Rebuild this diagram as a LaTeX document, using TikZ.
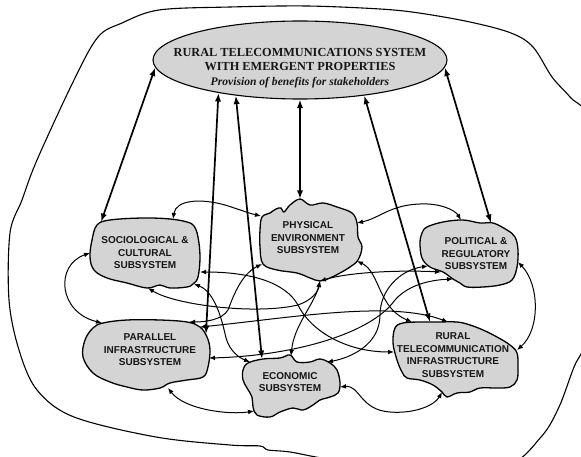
\documentclass[tikz,border=0pt]{standalone}
\usepackage{fontspec}
\setmainfont{Liberation Serif}
\setsansfont{Liberation Sans}
\usetikzlibrary{arrows.meta,shapes.geometric}

\definecolor{blobfill}{HTML}{D4D4D4}
\definecolor{inkdark}{HTML}{161616}

\begin{document}
\begin{tikzpicture}[x=1pt,y=-1pt,
  rim/.style={line width=1.1pt, black},
  blob/.style={draw=black, line width=1.3pt, fill=blobfill},
  sublabel/.style={font=\sffamily\bfseries\fontsize{10}{12.5}\selectfont,
    align=center, text=inkdark, inner sep=0pt},
  link/.style={line width=1pt,
    {Latex[length=6pt,width=4.8pt]}-{Latex[length=6pt,width=4.8pt]}},
  bond/.style={line width=1.7pt,
    {Latex[length=8.5pt,width=6.2pt]}-{Latex[length=8.5pt,width=6.2pt]}}]

\useasboundingbox (0,0) rectangle (581,457);

% environment boundary
\begin{scope}
  \clip (0,0) rectangle (581,457);
  \draw[rim] plot[smooth cycle, tension=0.55] coordinates {
    (98,37) (122,23) (159,10) (230,7) (307,6) (380,9) (419,13) (470,22)
    (511,33) (533,47) (552,77) (570,97) (592,125) (600,230) (590,330)
    (574,367) (559,407) (541,437) (505,466) (420,468) (335,460) (290,452)
    (268,450) (260,446) (230,445) (156,437) (74,417) (37,390) (19,350)
    (9,300) (10,233) (22,200) (37,160) (74,80)};
\end{scope}

% whole system
\node[ellipse, draw=black, line width=1.1pt, fill=blobfill,
      minimum width=294pt, minimum height=78pt, inner sep=0pt] (sys) at (300,60) {};
\node[align=center, text=inkdark, inner sep=0pt,
      font=\bfseries\fontsize{12.3}{14.5}\selectfont] (systext) at (300,68)
  {RURAL TELECOMMUNICATIONS SYSTEM\\WITH EMERGENT PROPERTIES\\
   {\itshape\fontsize{11.6}{14.5}\selectfont Provision of benefits for stakeholders}};

% subsystem outlines
\draw[blob] plot[smooth cycle, tension=0.6] coordinates {
  (97,225) (110,220) (143,218) (170,219) (187,222) (194,226) (198,237)
  (200,257) (198,277) (193,284) (187,287) (170,288) (160,285) (147,288)
  (127,283) (107,278) (94,270) (90,257) (92,240)};
\draw[blob] plot[smooth cycle, tension=0.6] coordinates {
  (300,199) (310,205) (323,203) (337,207) (352,213) (357,223) (358,237)
  (362,247) (358,260) (350,267) (340,273) (330,278) (320,281) (310,278)
  (297,273) (277,270) (263,264) (260,247) (260,230) (262,217) (270,213)
  (276,209) (281,208) (284,212) (290,205)};
\draw[blob] plot[smooth cycle, tension=0.6] coordinates {
  (427,227) (443,222) (463,220) (480,223) (493,223) (507,230) (515,237)
  (518,250) (517,267) (512,280) (500,285) (483,287) (467,287) (460,283)
  (453,279) (443,272) (430,267) (422,258) (420,243) (422,233)};
\draw[blob] plot[smooth cycle, tension=0.6] coordinates {
  (103,323) (127,320) (160,320) (187,322) (200,327) (207,337) (210,350)
  (208,367) (203,377) (187,380) (170,383) (160,388) (143,390) (127,387)
  (110,382) (93,373) (83,357) (85,340) (93,328)};
\draw[blob] plot[smooth cycle, tension=0.6] coordinates {
  (248,363) (263,359) (280,358) (290,355) (297,362) (310,362) (320,359)
  (330,363) (337,370) (340,383) (338,393) (330,397) (320,400) (313,405)
  (303,410) (293,408) (280,412) (270,417) (257,415) (253,407) (252,397)
  (247,388) (243,380) (243,370)};
\draw[blob] plot[smooth cycle, tension=0.6] coordinates {
  (395,328) (403,323) (420,322) (437,322) (457,322) (470,325) (483,330)
  (497,337) (510,345) (517,353) (518,367) (517,380) (510,387) (497,388)
  (480,388) (470,392) (457,393) (447,397) (442,392) (433,385) (420,380)
  (407,378) (402,372) (397,360) (393,343)};

% subsystem labels
\node[sublabel] (soc)  at (145,253) {SOCIOLOGICAL \&\\CULTURAL\\SUBSYSTEM};
\node[sublabel] (phys) at (308,238) {PHYSICAL\\ENVIRONMENT\\SUBSYSTEM};
\node[sublabel] (pol)  at (476,254) {POLITICAL \&\\REGULATORY\\SUBSYSTEM};
\node[sublabel] (par)  at (150,350) {PARALLEL\\INFRASTRUCTURE\\SUBSYSTEM};
\node[sublabel] (eco)  at (290,382) {ECONOMIC\\SUBSYSTEM};
\node[sublabel] (rti)  at (453,355) {RURAL\\TELECOMMUNICATION\\INFRASTRUCTURE\\SUBSYSTEM};

% attachment points on the outlines
\coordinate (soc-t)  at (173,219);
\coordinate (soc-tl) at (101,222);
\coordinate (soc-l)  at (90,253);
\coordinate (soc-r)  at (200,272);
\coordinate (soc-br) at (194,284);
\coordinate (soc-b)  at (148,288);
\coordinate (phys-top) at (300,199);
\coordinate (phys-l)   at (261,216);
\coordinate (phys-r)   at (357,223);
\coordinate (phys-bl)  at (262,264);
\coordinate (phys-b)   at (320,281);
\coordinate (phys-br)  at (357,261);
\coordinate (pol-t)  at (491,223);
\coordinate (pol-tl) at (461,220);
\coordinate (pol-r)  at (518,262);
\coordinate (pol-l1) at (428,266);
\coordinate (pol-l2) at (441,272);
\coordinate (pol-l3) at (453,279);
\coordinate (par-tl)  at (102,323);
\coordinate (par-tr1) at (189,322);
\coordinate (par-tr2) at (200,327);
\coordinate (par-tr3) at (206,334);
\coordinate (par-r)   at (209,358);
\coordinate (par-b)   at (168,388);
\coordinate (eco-tl) at (250,362);
\coordinate (eco-t1) at (262,359);
\coordinate (eco-t2) at (291,356);
\coordinate (eco-tr) at (327,362);
\coordinate (eco-bl) at (254,411);
\coordinate (eco-r)  at (340,387);
\coordinate (rti-tl) at (412,322);
\coordinate (rti-t2) at (430,322);
\coordinate (rti-tr) at (448,322);
\coordinate (rti-l)  at (394,352);
\coordinate (rti-r)  at (517,350);
\coordinate (rti-b)  at (442,392);

% system-level links
\draw[bond] (sys.183) -- (soc-tl);
\draw[bond] (sys.202) -- (par-tr3);
\draw[bond] (sys.209) -- (eco-t1);
\draw[bond] (sys.270) -- (phys-top);
\draw[bond] (sys.331) -- (rti-t2);
\draw[bond] (sys.357) -- (pol-t);

% interactions between subsystems
\draw[link] (soc-t) .. controls (176,200) and (200,198) .. (225,205)
                    .. controls (238,209) and (248,213) .. (phys-l);
\draw[link] (phys-r) .. controls (380,218) and (390,205) .. (420,204)
                     .. controls (440,203) and (455,210) .. (pol-tl);
\draw[link] (soc-l) .. controls (55,265) and (58,312) .. (par-tl);
\draw[link] (pol-r) .. controls (540,285) and (540,330) .. (rti-r);
\draw[link] (par-b) .. controls (185,410) and (230,415) .. (eco-bl);
\draw[link] (eco-r) .. controls (360,385) and (360,410) .. (390,412)
                    .. controls (415,414) and (435,405) .. (rti-b);
\draw[link] (soc-b) .. controls (175,305) and (255,315) .. (298,305)
                    .. controls (312,300) and (318,292) .. (phys-b);
\draw[link] (soc-r) .. controls (250,272) and (285,282) .. (298,305)
                    .. controls (310,330) and (345,352) .. (rti-l);
\draw[link] (soc-br) .. controls (215,292) and (222,320) .. (226,338)
                     .. controls (230,352) and (240,358) .. (eco-tl);
\draw[link] (phys-bl) .. controls (240,275) and (232,300) .. (228,310)
                      .. controls (222,320) and (205,322) .. (par-tr1);
\draw[link] (phys-b) .. controls (314,305) and (294,325) .. (eco-t2);
\draw[link] (phys-b) .. controls (350,272) and (400,270) .. (pol-l2);
\draw[link] (phys-br) .. controls (380,272) and (378,308) .. (rti-tl);
\draw[link] (pol-l1) .. controls (400,270) and (380,290) .. (380,315)
                     .. controls (380,345) and (350,358) .. (eco-tr);
\draw[link] (par-tr2) .. controls (290,318) and (390,300) .. (rti-tr);
\draw[link] (par-r) .. controls (290,356) and (370,335) .. (395,300)
                    .. controls (408,285) and (430,280) .. (pol-l3);

\end{tikzpicture}
\end{document}
